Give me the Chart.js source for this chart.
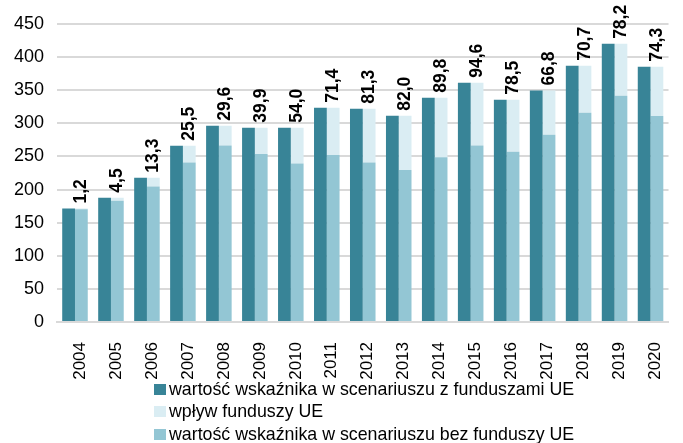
<!DOCTYPE html>
<html>
<head>
<meta charset="utf-8">
<script src="https://cdn.jsdelivr.net/npm/chart.js@4/dist/chart.umd.min.js"></script>
<style>
    body { margin: 0; background: #fff; }
    #wrap { position: relative; width: 683px; height: 443px; }
    #chart { position: absolute; left: 0; top: 0; }
    #legend {
        position: absolute; left: 154px; top: 378px;
        font-family: "Liberation Sans", Arial, sans-serif;
        font-size: 17.8px; color: #000; line-height: 23px;
    }
    #legend .row { display: flex; align-items: center; white-space: nowrap; height: 22.5px; }
    #legend .box { width: 12px; height: 11px; margin-right: 3px; }
</style>
</head>
<body>
<div id="wrap">
    <canvas id="chart" width="683" height="380"></canvas>
    <div id="legend"></div>
</div>
<script>
const years = ["2004","2005","2006","2007","2008","2009","2010","2011","2012","2013","2014","2015","2016","2017","2018","2019","2020"];

// wartość wskaźnika w scenariuszu z funduszami UE
const withFunds = [171.3, 187.7, 218.0, 266.2, 296.3, 293.5, 293.3, 323.5, 322.0, 311.4, 338.6, 361.2, 335.5, 349.6, 386.8, 420.0, 385.3];
// wartość wskaźnika w scenariuszu bez funduszy UE
const withoutFunds = [170.1, 183.2, 204.7, 240.7, 266.7, 253.6, 239.3, 252.1, 240.7, 229.4, 248.8, 266.6, 257.0, 282.8, 316.1, 341.8, 311.0];
// wpływ funduszy UE
const impact = [1.2, 4.5, 13.3, 25.5, 29.6, 39.9, 54.0, 71.4, 81.3, 82.0, 89.8, 94.6, 78.5, 66.8, 70.7, 78.2, 74.3];

const yTicks = [0, 50, 100, 150, 200, 250, 300, 350, 400, 450];

const FONT = '"Liberation Sans", Arial, sans-serif';

// impact value written above each stacked bar
const impactLabels = {
    id: "impactLabels",
    afterDatasetsDraw(chart) {
        const ctx = chart.ctx;
        const meta = chart.getDatasetMeta(2);
        ctx.save();
        ctx.font = "bold 17.5px " + FONT;
        ctx.fillStyle = "#000";
        ctx.textAlign = "left";
        ctx.textBaseline = "middle";
        meta.data.forEach((bar, i) => {
            ctx.save();
            ctx.translate(bar.x, bar.y - 5);
            ctx.rotate(-Math.PI / 2);
            ctx.fillText(impact[i].toFixed(1).replace(".", ","), 0, 0);
            ctx.restore();
        });
        ctx.restore();
    }
};

const datasets = [
    { label: "wartość wskaźnika w scenariuszu z funduszami UE", data: withFunds, backgroundColor: "#388497", stack: "a" },
    { label: "wartość wskaźnika w scenariuszu bez funduszy UE", data: withoutFunds, backgroundColor: "#93c6d4", stack: "b" },
    { label: "wpływ funduszy UE", data: impact, backgroundColor: "#daedf3", stack: "b" }
];

new Chart(document.getElementById("chart"), {
    type: "bar",
    data: { labels: years, datasets: datasets },
    options: {
        responsive: false,
        animation: false,
        layout: { padding: { top: 24, right: 2, left: 0, bottom: 0 } },
        datasets: { bar: { barPercentage: 1, categoryPercentage: 0.71 } },
        plugins: { legend: { display: false }, tooltip: { enabled: false } },
        scales: {
            x: {
                stacked: true,
                grid: { display: false },
                border: { color: "#d9d9d9", width: 2 },
                ticks: {
                    minRotation: 90, maxRotation: 90, padding: 12, labelOffset: 5,
                    color: "#000", font: { family: FONT, size: 17 }
                },
                afterFit(scale) { scale.height = 58; }
            },
            y: {
                stacked: true,
                min: 0, max: 450,
                afterBuildTicks(scale) { scale.ticks = yTicks.map(v => ({ value: v })); },
                grid: { color: "#d9d9d9", lineWidth: 2, drawTicks: false },
                border: { display: false },
                ticks: { padding: 13, color: "#000", font: { family: FONT, size: 18 } },
                afterFit(scale) { scale.width = 57; }
            }
        }
    },
    plugins: [impactLabels]
});

// legend in the original order
const legendOrder = [0, 2, 1];
const legendDiv = document.getElementById("legend");
legendOrder.forEach(i => {
    const ds = datasets[i];
    legendDiv.innerHTML += `<div class="row"><span class="box" style="background:${ds.backgroundColor}"></span>${ds.label}</div>`;
});
</script>
</body>
</html>
